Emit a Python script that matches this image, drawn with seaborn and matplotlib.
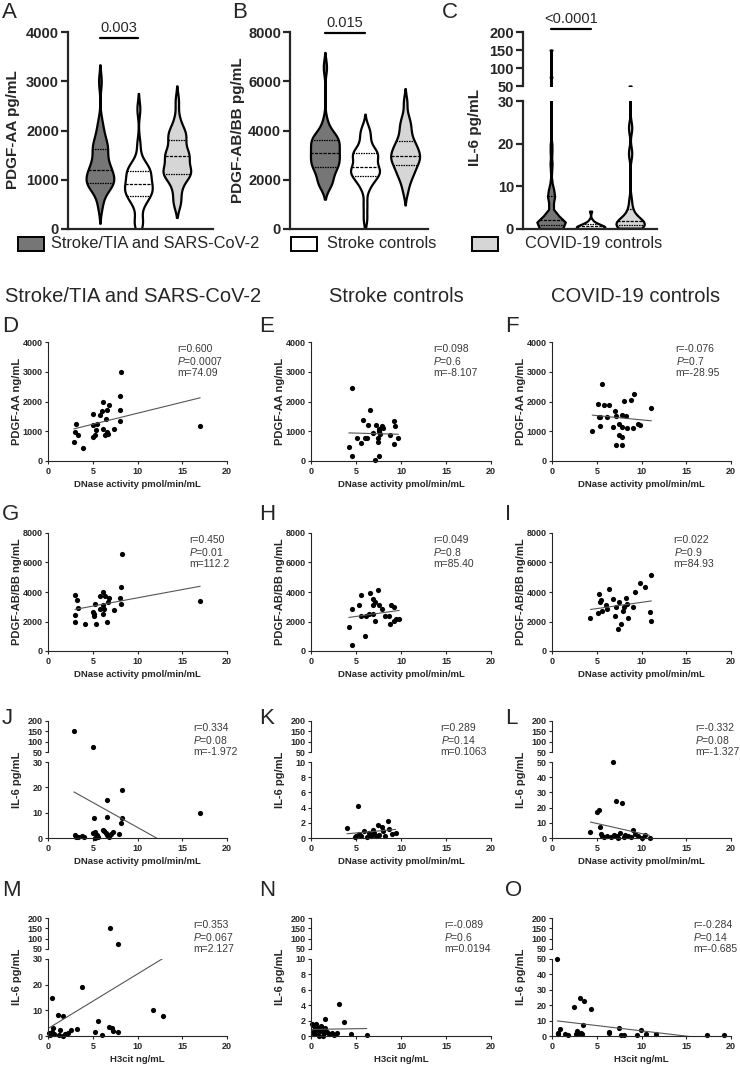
import numpy as np
import pandas as pd
import seaborn as sns
import matplotlib.pyplot as plt
from matplotlib.patches import Rectangle

# ---- data ----
group_names = ["Stroke/TIA and SARS-CoV-2", "Stroke controls", "COVID-19 controls"]
group_colors = ["#767676", "#ffffff", "#d6d6d6"]

# PDGF-AA vs DNase activity
D_x = [2.9, 3.0, 3.1, 3.4, 3.9, 5.0, 5.0, 5.0, 5.2, 5.4, 5.5, 5.8, 6.0, 6.2, 6.2, 6.4, 6.5, 6.6, 6.6, 6.8, 7.4, 8.0, 8.1, 8.1, 8.2, 17.0, 6.7]
D_y = [630, 990, 1260, 890, 450, 1570, 1200, 820, 890, 1040, 1240, 1560, 1680, 1990, 1090, 870, 1400, 1700, 980, 1880, 1060, 1730, 1350, 2180, 3000, 1180, 900]
E_x = [4.5, 4.2, 4.5, 5.1, 5.5, 5.8, 6.0, 6.2, 6.3, 6.6, 6.9, 7.2, 7.1, 7.4, 7.4, 7.6, 7.5, 7.7, 7.9, 8.0, 8.8, 9.2, 9.3, 9.2, 9.7, 7.5]
E_y = [2440, 470, 170, 780, 590, 1390, 780, 780, 1220, 1720, 940, 1220, 30, 780, 640, 1090, 170, 920, 1170, 1110, 890, 1330, 1190, 570, 760, 1000]
F_x = [4.5, 5.1, 5.3, 5.4, 5.4, 5.6, 5.8, 6.1, 6.4, 6.8, 7.0, 7.1, 7.2, 7.5, 7.5, 7.8, 7.8, 7.8, 7.8, 8.0, 8.3, 8.4, 8.8, 9.1, 9.2, 9.6, 9.8, 11.1]
F_y = [1020, 1910, 1480, 1490, 1170, 2600, 1880, 1470, 1880, 1130, 1680, 540, 1510, 1260, 870, 1540, 1130, 790, 540, 2020, 1510, 1100, 2050, 1100, 2250, 1260, 1210, 1780]

# PDGF-AB/BB vs DNase activity
G_x = [3.0, 3.2, 3.0, 3.0, 3.4, 4.1, 5.1, 5.4, 5.3, 5.8, 6.2, 6.4, 6.1, 6.2, 6.3, 6.6, 6.7, 6.8, 7.4, 8.0, 8.2, 8.2, 8.3, 17.0, 5.0, 5.8, 5.1]
G_y = [3780, 3480, 2440, 1970, 2920, 1810, 2510, 1810, 3160, 3740, 3970, 3740, 3090, 2510, 2850, 2000, 3320, 3600, 2780, 3600, 3160, 4360, 6570, 3390, 2620, 2850, 2390]
H_x = [4.2, 4.6, 4.6, 5.3, 5.6, 6.5, 6.0, 6.1, 6.4, 6.9, 7.1, 7.4, 7.6, 7.9, 8.2, 8.9, 9.2, 8.7, 8.8, 9.2, 9.8, 9.4, 6.9, 7.1, 6.9, 5.6]
H_y = [1620, 420, 2850, 3090, 3780, 3940, 1000, 2390, 2510, 3090, 3320, 4130, 3090, 2850, 2390, 3090, 2970, 2390, 1810, 2040, 2160, 2200, 2510, 2040, 3550, 2390]
I_x = [4.3, 5.1, 5.3, 5.5, 5.4, 5.6, 6.0, 6.4, 6.8, 7.0, 7.4, 7.1, 7.5, 7.7, 7.9, 8.1, 8.3, 8.4, 8.5, 9.1, 9.3, 9.8, 10.4, 10.9, 11.1, 11.1, 6.2]
I_y = [2270, 2550, 3850, 3430, 3320, 2740, 3090, 4180, 3550, 2390, 1510, 2970, 3320, 1860, 2740, 2970, 3600, 3160, 2270, 2970, 4010, 4590, 4360, 2620, 2040, 5170, 2850]

# IL-6 vs DNase activity
J_x = [2.9, 5.0, 8.3, 6.6, 5.1, 6.6, 8.3, 8.2, 17.0, 3.0, 3.1, 3.3, 3.8, 4.0, 5.0, 5.3, 5.5, 5.6, 6.1, 6.3, 6.5, 6.6, 6.8, 7.0, 7.3, 7.9, 5.2]
J_y = [150, 75, 19, 15, 7.7, 8.2, 7.7, 6.0, 10, 1.2, 0.5, 0.2, 0.9, 0.3, 1.8, 2.2, 1.0, 0.3, 3.2, 2.7, 2.0, 1.2, 0.5, 1.5, 2.4, 1.4, 0.1]
K_x = [4.0, 4.9, 5.2, 5.3, 5.6, 5.9, 6.2, 6.4, 6.7, 6.9, 7.2, 7.4, 7.6, 7.9, 8.0, 8.2, 8.5, 8.7, 9.0, 9.4, 7.0, 5.0]
K_y = [1.3, 0.1, 4.2, 0.5, 0.2, 0.9, 0.1, 0.6, 0.2, 1.0, 0.2, 1.7, 0.4, 1.4, 0.9, 0.2, 2.2, 1.2, 0.5, 0.6, 0.7, 0.3]
L_x = [4.3, 5.0, 5.2, 5.4, 5.5, 5.6, 5.8, 6.2, 6.6, 6.8, 6.9, 7.1, 7.3, 7.6, 7.8, 8.0, 8.2, 8.5, 8.8, 9.1, 9.3, 9.6, 10.0, 10.4, 10.9, 7.4]
L_y = [4.2, 17, 18.5, 7.0, 2.5, 1.0, 0.5, 1.5, 0.8, 50, 2.2, 24.5, 1.0, 3.0, 23, 0.6, 2.0, 1.2, 0.4, 5.0, 2.5, 1.5, 0.3, 1.8, 0.2, 0.2]

# IL-6 vs H3cit
M_x = [6.9, 7.8, 3.8, 0.4, 1.1, 1.7, 5.6, 11.7, 12.8, 6.8, 7.1, 7.3, 7.8, 5.3, 6.0, 2.6, 3.2, 2.2, 1.3, 0.6, 0.1, 0.4, 0.7, 1.2, 1.7, 1.9, 0.2]
M_y = [150, 75, 19, 14.8, 8.3, 7.8, 6.0, 10, 7.7, 3.6, 3.0, 2.1, 1.4, 1.7, 0.3, 2.3, 2.6, 1.0, 2.3, 3.0, 1.0, 1.7, 0.8, 0.3, 0.0, 0.8, 0.4]
N_x = [0.1, 0.2, 0.3, 0.3, 0.4, 0.5, 0.6, 0.7, 0.8, 0.9, 1.0, 1.1, 1.2, 1.4, 1.5, 1.6, 1.8, 2.0, 2.3, 2.6, 2.9, 3.1, 3.7, 4.4, 6.2, 1.3]
N_y = [1.5, 0.5, 1.3, 0.2, 1.0, 1.5, 0.7, 0.3, 1.1, 0.0, 0.6, 1.3, 0.9, 0.4, 1.1, 2.2, 0.5, 0.2, 0.4, 0.1, 0.4, 4.2, 1.8, 0.2, 0.1, 0.0]
O_x = [0.6, 2.5, 3.1, 3.6, 4.4, 3.5, 0.9, 0.7, 0.7, 1.5, 1.8, 2.8, 2.9, 3.2, 2.7, 3.3, 6.4, 6.4, 7.5, 7.7, 8.0, 9.5, 9.9, 10.5, 11.6, 17.3, 19.2]
O_y = [50, 19, 24.5, 23, 17.3, 7.4, 4.3, 2.2, 1.1, 1.1, 0.4, 3.5, 1.7, 2.2, 1.3, 1.1, 2.8, 2.2, 5.2, 0.4, 0.4, 0.4, 3.9, 1.1, 1.1, 0.4, 0.9]

# reported statistics: r, P, slope m, and intercept estimated from the drawn lines
r_vals = ["0.600", "0.098", "-0.076", "0.450", "0.049", "0.022", "0.334", "0.289", "-0.332", "0.353", "-0.089", "-0.284"]
p_vals = ["0.0007", "0.6", "0.7", "0.01", "0.8", "0.9", "0.08", "0.14", "0.08", "0.067", "0.6", "0.14"]
m_text = ["74.09", "-8.107", "-28.95", "112.2", "85.40", "84.93", "-1.972", "0.1063", "-1.327", "2.127", "0.0194", "-0.685"]
intercepts = [865, 978, 1672, 2482, 1915, 2450, 23.9, 0.13, 16.2, 2.9, 0.85, 10.2]

p_values_top = ["0.003", "0.015", "<0.0001"]

# ---- figure ----
sns.set_style("ticks")
plt.rcParams["font.family"] = ["Liberation Sans", "DejaVu Sans"]
plt.rcParams["mathtext.fontset"] = "custom"
plt.rcParams["mathtext.it"] = "Liberation Sans:italic"
plt.rcParams["mathtext.rm"] = "Liberation Sans"

W, H = 740, 1068
fig = plt.figure(figsize=(W / 100, H / 100), dpi=100)


def add_ax(x0, y0, x1, y1):
    # pixel box (top-left origin) -> figure axes
    return fig.add_axes([x0 / W, 1 - y1 / H, (x1 - x0) / W, (y1 - y0) / H])


def ftext(x, y, s, **kw):
    return fig.text(x / W, 1 - y / H, s, **kw)


def bold_ticks(ax):
    for lab in ax.get_xticklabels() + ax.get_yticklabels():
        lab.set_fontweight("bold")


def style(ax, lw, tlen, tsize, bottom=True):
    sns.despine(ax=ax, bottom=not bottom)
    for s in ["left", "bottom"]:
        ax.spines[s].set_linewidth(lw)
    ax.tick_params(width=lw, length=tlen, labelsize=tsize, pad=1.5)
    ax.set_facecolor("none")


# ---- top row: violins ----
def violins(ax, data, bws, cut):
    for i, vals in enumerate(data):
        sns.violinplot(x=[group_names[i]] * len(vals), y=vals, order=group_names,
                       color=group_colors[i], saturation=1, ax=ax, inner="quart",
                       bw_adjust=bws[i], cut=cut, density_norm="width", width=0.72,
                       linewidth=1.6, linecolor="black", inner_kws=dict(linewidth=0.9))
    ax.set_xticks([])
    ax.set_xlabel("")
    ax.set_ylabel("")


def sig_bar(ax, y, txt):
    ax.plot([0, 1], [y, y], color="black", lw=1.6, clip_on=False)
    ax.annotate(txt, xy=(0.5, y), xytext=(0, 2), textcoords="offset points",
                ha="center", va="bottom", fontsize=10.5, annotation_clip=False)


axA = add_ax(68, 32, 213, 229)
violins(axA, [D_y, E_y, F_y], [0.6, 0.6, 0.6], 2)
axA.set_xlim(-0.83, 2.94)
axA.set_ylim(0, 4000)
axA.set_yticks([0, 1000, 2000, 3000, 4000])
style(axA, 1.6, 5, 10.5)
bold_ticks(axA)
sig_bar(axA, 3880, p_values_top[0])

axB = add_ax(290, 32, 428, 229)
violins(axB, [G_y, H_y, I_y], [0.6, 0.6, 0.6], 2)
axB.set_xlim(-0.87, 2.57)
axB.set_ylim(0, 8000)
axB.set_yticks([0, 2000, 4000, 6000, 8000])
style(axB, 1.6, 5, 10.5)
bold_ticks(axB)
sig_bar(axB, 7960, p_values_top[1])

axCu = add_ax(523, 32, 657, 86)
axCl = add_ax(523, 101, 657, 229)
for ax, lim, ticks in [(axCu, (50, 200), [50, 100, 150, 200]), (axCl, (0, 30), [0, 10, 20, 30])]:
    violins(ax, [J_y, K_y, L_y], [0.08, 0.8, 0.2], 0)
    ax.set_xlim(-0.71, 2.68)
    ax.set_ylim(*lim)
    ax.set_yticks(ticks)
    style(ax, 1.6, 5, 10.5, bottom=(ax is axCl))
    ax.tick_params(axis="x", bottom=False)
    bold_ticks(ax)
sig_bar(axCu, 208, p_values_top[2])

ftext(13, 130, "PDGF-AA pg/mL", rotation=90, ha="center", va="center", fontsize=11, fontweight="bold")
ftext(238, 130, "PDGF-AB/BB pg/mL", rotation=90, ha="center", va="center", fontsize=11, fontweight="bold")
ftext(475, 127, "IL-6 pg/mL", rotation=90, ha="center", va="center", fontsize=11, fontweight="bold")
for lx, lab in [(2, "A"), (232, "B"), (442, "C")]:
    ftext(lx, 13, lab, ha="left", va="center", fontsize=16)

# legend
for bx, tx, c, lab in [(18, 51, group_colors[0], group_names[0]),
                       (291, 327, group_colors[1], group_names[1]),
                       (472, 525, group_colors[2], group_names[2])]:
    fig.patches.append(Rectangle((bx / W, 1 - 251 / H), 26 / W, 14 / H, transform=fig.transFigure,
                                 facecolor=c, edgecolor="black", lw=1.4))
    ftext(tx, 244, lab, ha="left", va="center", fontsize=11.8)

# column headers
for cx, lab in [(133, group_names[0]), (396, group_names[1]), (636, group_names[2])]:
    ftext(cx, 296, lab, ha="center", va="center", fontsize=14.5)

# ---- scatter grid ----
col_x = [(48, 227), (311, 491), (552, 731)]
row_y = [(342, 461), (533, 651), (721, 838), (918, 1036)]
letter_y = [327, 515, 718, 890]
letter_x = [2, 259, 505]
ann_frac = [0.72, 0.68, 0.69, 0.79, 0.68, 0.68, 0.81, 0.72, 0.80, 0.81, 0.74, 0.79]

panels = [(D_x, D_y), (E_x, E_y), (F_x, F_y), (G_x, G_y), (H_x, H_y), (I_x, I_y),
          (J_x, J_y), (K_x, K_y), (L_x, L_y), (M_x, M_y), (N_x, N_y), (O_x, O_y)]
letters = "DEFGHIJKLMNO"
y_labels = ["PDGF-AA ng/mL", "PDGF-AB/BB ng/mL", "IL-6 pg/mL", "IL-6 pg/mL"]
x_labels = ["DNase activity pmol/min/mL"] * 3 + ["H3cit ng/mL"]
lower_ticks = [[0, 10, 20, 30], [0, 2, 4, 6, 8, 10], [0, 10, 20, 30, 40, 50]]
upper_ticks = [50, 100, 150, 200]

for k, (px, py) in enumerate(panels):
    row, col = divmod(k, 3)
    x0, x1 = col_x[col]
    top, bot = row_y[row]
    pts = pd.DataFrame({"x": px, "y": py})
    if row == 0:
        parts = [(add_ax(x0, top, x1, bot), [0, 1000, 2000, 3000, 4000], pts.y >= 0)]
    elif row == 1:
        parts = [(add_ax(x0, top, x1, bot), [0, 2000, 4000, 6000, 8000], pts.y >= 0)]
    else:
        lt = lower_ticks[col]
        parts = [(add_ax(x0, top, x1, top + 31), upper_ticks, pts.y > upper_ticks[0]),
                 (add_ax(x0, top + 41, x1, bot), lt, pts.y <= lt[-1])]
    xs = np.array([min(px), max(px)])
    for j, (ax, ticks, mask) in enumerate(parts):
        sub = pts[mask]
        if len(sub):
            sns.scatterplot(data=sub, x="x", y="y", ax=ax, color="black", s=14,
                            linewidth=0, clip_on=False, legend=False)
        ax.plot(xs, float(m_text[k]) * xs + intercepts[k], color="#555555", lw=0.8)
        ax.set_xlim(0, 20)
        ax.set_ylim(ticks[0], ticks[-1])
        ax.set_yticks(ticks)
        ax.set_xlabel("")
        ax.set_ylabel("")
        is_bottom = j == len(parts) - 1
        style(ax, 0.8, 2.5, 6.5, bottom=is_bottom)
        if is_bottom:
            ax.set_xticks([0, 5, 10, 15, 20])
            ax.set_xlabel(x_labels[row], fontsize=6.8, fontweight="bold", labelpad=3)
        else:
            ax.tick_params(axis="x", bottom=False, labelbottom=False)
        bold_ticks(ax)

    ftext(x0 - 31, (top + bot) / 2, y_labels[row], rotation=90, ha="center", va="center",
          fontsize=8, fontweight="bold")
    ftext(letter_x[col], letter_y[row], letters[k], ha="left", va="center", fontsize=16)
    ax_x = x0 + ann_frac[k] * (x1 - x0)
    for i, s in enumerate(["r=" + r_vals[k], "$P$=" + p_vals[k], "m=" + m_text[k]]):
        ftext(ax_x, top + 7 + 12 * i, s, ha="left", va="center", fontsize=7.5, color="#3a3a3a")

fig.savefig("out.png", dpi=100)
